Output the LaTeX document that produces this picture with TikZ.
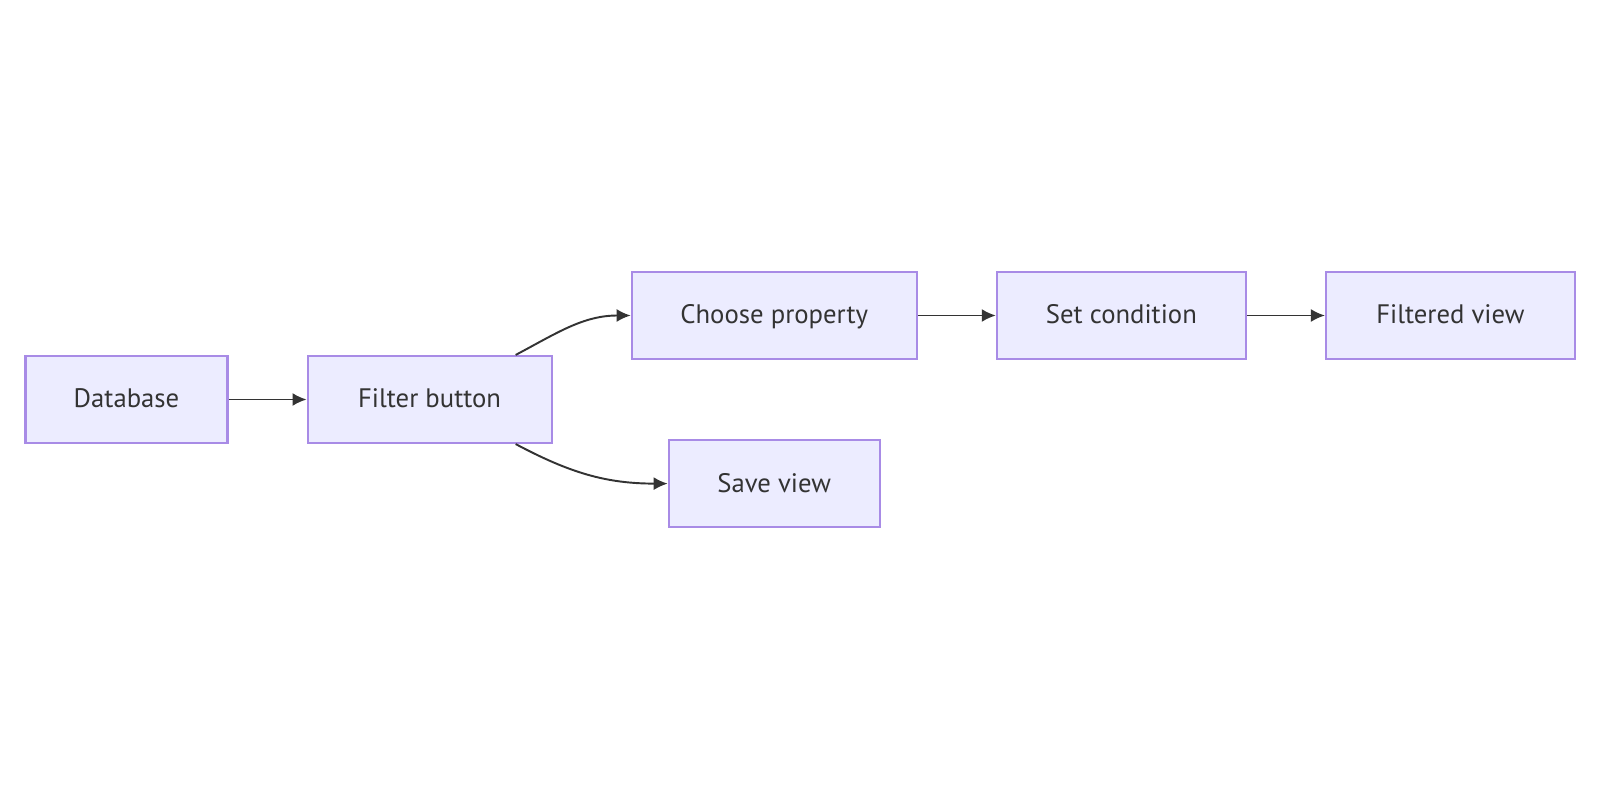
\documentclass[tikz,border=0pt]{standalone}
\usepackage{fontspec}
\setmainfont{PT Sans}
\usetikzlibrary{
    arrows.meta,
    positioning
}
\definecolor{BoxFill}{HTML}{ECECFF}
\definecolor{BoxLine}{HTML}{A88BE6}
\definecolor{InkGrey}{HTML}{333333}

\begin{document}
\begin{tikzpicture}[
    node distance=0.78cm,
    >={Latex[length=1.4mm,width=1.3mm]},
    font=\fontsize{7.6}{9}\selectfont,
    stepbox/.style={
        draw=BoxLine,
        line width=0.6pt,
        fill=BoxFill,
        text=InkGrey,
        minimum height=0.87cm,
        text height=0.7em,
        text depth=0.22em,
        inner sep=0pt
    },
    flow/.style={->, draw=InkGrey, line width=0.55pt}
]

\useasboundingbox (0,0) rectangle (16,-8);

\node[
    stepbox,
    minimum width=2.02cm
] (database) at (1.265,-3.995) {Database};

\node[
    stepbox,
    minimum width=2.44cm,
    right=of database
] (filter) {Filter button};

\node[
    stepbox,
    minimum width=2.85cm,
    anchor=west
] (choose) at ([xshift=0.78cm,yshift=0.84cm]filter.east) {Choose property};

\node[
    stepbox,
    minimum width=2.49cm,
    right=of choose
] (condition) {Set condition};

\node[
    stepbox,
    minimum width=2.49cm,
    right=of condition
] (filtered) {Filtered view};

\node[
    stepbox,
    minimum width=2.11cm,
    below=0.79cm of choose
] (save) {Save view};

\draw[flow] (database) -- (filter);
\draw[flow] ([xshift=-0.37cm]filter.north east) to[out=28, in=180] (choose.west);
\draw[flow] ([xshift=-0.37cm]filter.south east) to[out=-28, in=180] (save.west);
\draw[flow] (choose) -- (condition);
\draw[flow] (condition) -- (filtered);

\end{tikzpicture}
\end{document}
